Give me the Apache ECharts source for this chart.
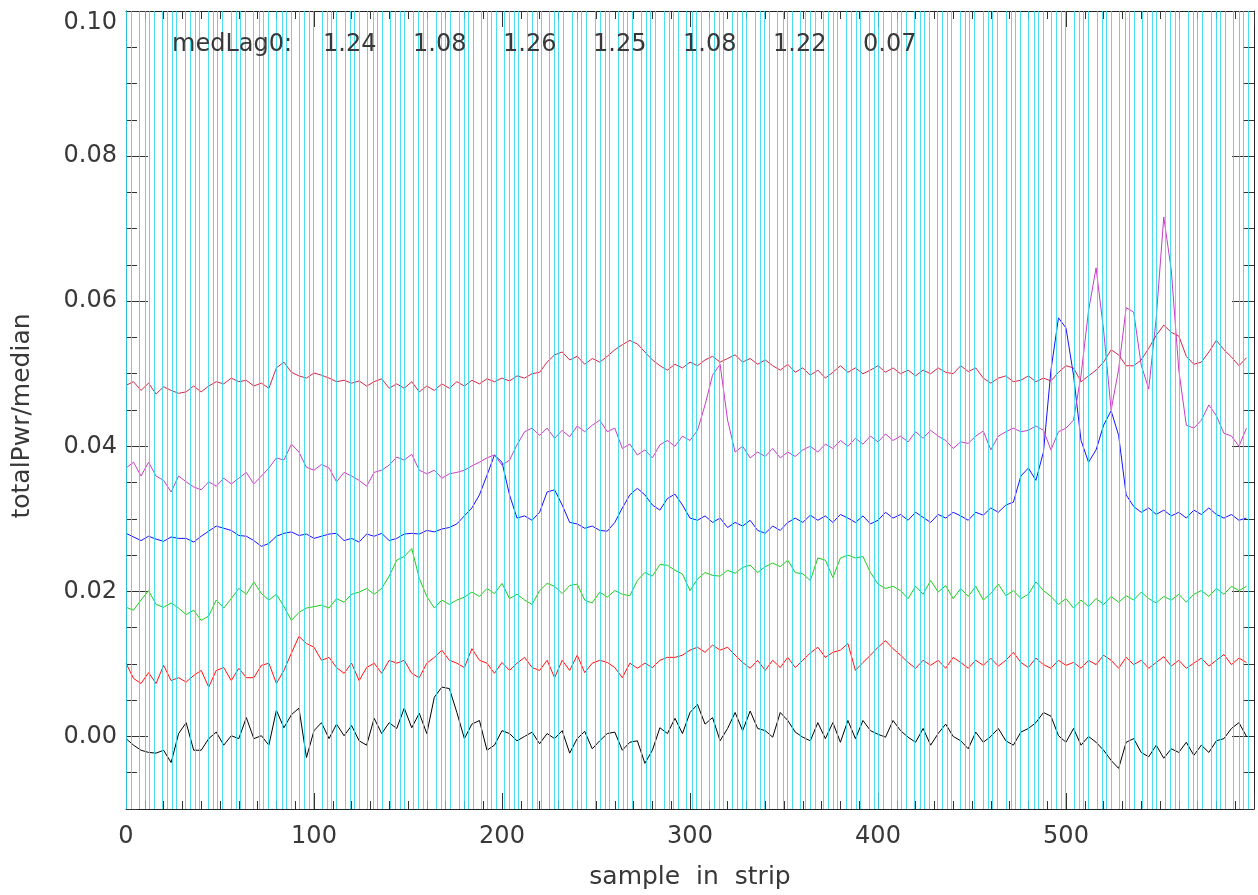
<!DOCTYPE html>
<html lang="en">
<head>
<meta charset="UTF-8" />
<title>totalPwr / median</title>
<script src="https://cdn.jsdelivr.net/npm/echarts@6/dist/echarts.min.js"></script>
<style>html,body{margin:0;padding:0;background:#fff}</style>
</head>
<body>
<div id="chart" style="width:1258px;height:895px"></div>
<script>
// one value every 4 samples
var sampleStep = 4;

var blackVals = [
  -0.0003, -0.0012, -0.0019, -0.0022, -0.0023, -0.0019, -0.0036, 0.0004, 0.0019, -0.0019,
  -0.0019, -0.0003, 0.0006, -0.0012, 0.0001, -0.0003, 0.0026, -0.0003, 0.0001, -0.0012,
  0.0036, 0.0012, 0.003, 0.0039, -0.0029, 0.0008, 0.0019, -0.0003, 0.0017, 0.0001,
  0.0015, -0.0006, -0.0012, 0.0025, 0.0004, 0.0019, 0.0011, 0.0039, 0.0012, 0.0032,
  0.0004, 0.0054, 0.0068, 0.0066, 0.0033, -0.0003, 0.0017, 0.0022, -0.0019, -0.0012,
  0.0008, 0.0004, -0.0006, 0, 0.0006, -0.001, 0.0004, -0.0003, 0.0008, -0.0023,
  -0.0003, 0.0007, -0.0017, -0.0006, 0.0004, 0.0006, -0.0019, -0.0008, -0.0006, -0.0037,
  -0.0019, 0.0012, 0.0004, 0.0025, 0.0004, 0.0033, 0.0044, 0.0017, 0.0026, -0.0006,
  0.0011, 0.0033, 0.0008, 0.0035, 0.0011, 0.0008, -0.0001, 0.0033, 0.0022, 0.0006,
  -0.0001, -0.0006, 0.0019, -0.0003, 0.0019, -0.0008, 0.0022, -0.0003, 0.0022, 0.0008,
  0.0003, -0.0001, 0.0022, 0.0008, -0.0001, -0.0008, 0.0011, -0.0012, 0.0004, 0.0017,
  0, -0.0006, -0.0017, 0.0006, -0.0008, 0, 0.0011, -0.0006, -0.0012, 0.0006,
  0.0011, 0.0019, 0.0033, 0.0028, 0.0001, -0.0008, 0.0011, -0.0012, 0, -0.0008,
  -0.0019, -0.0033, -0.0044, -0.0008, -0.0003, -0.0022, -0.0028, -0.0012, -0.003, -0.0017,
  -0.0022, -0.0008, -0.0026, -0.0012, -0.0022, -0.0006, -0.0003, 0.0011, 0.0019, 0
];

var redVals = [
  0.0101, 0.008, 0.0073, 0.0088, 0.0073, 0.0098, 0.0077, 0.0081, 0.0075, 0.0084,
  0.0091, 0.0068, 0.0091, 0.0095, 0.0077, 0.0094, 0.0081, 0.0081, 0.0098, 0.0101,
  0.0073, 0.0091, 0.0115, 0.0138, 0.0128, 0.0123, 0.0105, 0.0109, 0.0095, 0.0087,
  0.0101, 0.0077, 0.0095, 0.0101, 0.0087, 0.0105, 0.0101, 0.0105, 0.0087, 0.0081,
  0.0101, 0.0109, 0.0119, 0.0105, 0.0101, 0.0095, 0.0121, 0.0105, 0.0101, 0.0087,
  0.0102, 0.0091, 0.0101, 0.0109, 0.0095, 0.0091, 0.0105, 0.0081, 0.0105, 0.0091,
  0.0112, 0.0088, 0.0101, 0.0105, 0.0102, 0.0095, 0.0081, 0.0101, 0.0094, 0.0101,
  0.0095, 0.0105, 0.0109, 0.0109, 0.0112, 0.0119, 0.0123, 0.0116, 0.0126, 0.0119,
  0.0123, 0.0112, 0.0102, 0.0094, 0.0105, 0.0091, 0.0105, 0.0095, 0.0109, 0.0095,
  0.0105, 0.0115, 0.0123, 0.0109, 0.0116, 0.0119, 0.0128, 0.0091, 0.0102, 0.0112,
  0.0123, 0.0132, 0.0121, 0.0112, 0.0102, 0.0094, 0.0105, 0.0098, 0.0105, 0.0094,
  0.0109, 0.0102, 0.0094, 0.0105, 0.0098, 0.0108, 0.0097, 0.0105, 0.0116, 0.0102,
  0.0095, 0.0108, 0.0099, 0.0094, 0.0105, 0.0098, 0.0102, 0.0094, 0.0105, 0.0099,
  0.0112, 0.0105, 0.0094, 0.0109, 0.0099, 0.0105, 0.0094, 0.0102, 0.011, 0.0097,
  0.0105, 0.0094, 0.0101, 0.0108, 0.0097, 0.0105, 0.0113, 0.0099, 0.0108, 0.0102
];

var greenVals = [
  0.0178, 0.0174, 0.0188, 0.0201, 0.0182, 0.0178, 0.0184, 0.0177, 0.0168, 0.0174,
  0.016, 0.0166, 0.0188, 0.0177, 0.019, 0.0204, 0.0196, 0.0213, 0.0197, 0.0188,
  0.0196, 0.0179, 0.016, 0.0171, 0.0177, 0.0179, 0.0181, 0.0177, 0.019, 0.0185,
  0.0196, 0.0199, 0.0204, 0.0196, 0.0204, 0.0221, 0.0243, 0.0248, 0.0259, 0.0218,
  0.0193, 0.0177, 0.0188, 0.0182, 0.0188, 0.0192, 0.0199, 0.0193, 0.0204, 0.0197,
  0.0211, 0.019, 0.0196, 0.0188, 0.0182, 0.0201, 0.0211, 0.0207, 0.0197, 0.0208,
  0.021, 0.0188, 0.0184, 0.0199, 0.0192, 0.0201, 0.0196, 0.0194, 0.0215, 0.0226,
  0.0221, 0.0237, 0.0236, 0.0229, 0.0224, 0.0201, 0.0217, 0.0226, 0.0222, 0.0221,
  0.0229, 0.0225, 0.0233, 0.0236, 0.0226, 0.0234, 0.0239, 0.0234, 0.0243, 0.0226,
  0.0224, 0.0215, 0.0246, 0.0243, 0.0219, 0.0246, 0.025, 0.0246, 0.0248, 0.0226,
  0.021, 0.0204, 0.0207, 0.0201, 0.019, 0.0207, 0.0196, 0.0215, 0.0199, 0.0208,
  0.019, 0.0204, 0.0193, 0.0207, 0.0188, 0.0197, 0.021, 0.0194, 0.0201, 0.019,
  0.0196, 0.0213, 0.0201, 0.0193, 0.0182, 0.019, 0.0177, 0.0188, 0.0179, 0.019,
  0.0182, 0.0193, 0.0185, 0.0194, 0.0188, 0.0199, 0.019, 0.0184, 0.0193, 0.0188,
  0.0196, 0.0185, 0.0196, 0.0201, 0.0193, 0.0204, 0.0196, 0.0207, 0.0201, 0.0207
];

var blueVals = [
  0.028, 0.0275, 0.027, 0.0276, 0.0272, 0.0269, 0.0275, 0.0273, 0.0273, 0.0268,
  0.0276, 0.0283, 0.029, 0.0287, 0.0284, 0.0277, 0.0276, 0.027, 0.0262, 0.0266,
  0.0276, 0.028, 0.0282, 0.0277, 0.0279, 0.0273, 0.0276, 0.0279, 0.028, 0.027,
  0.0273, 0.0268, 0.0279, 0.0276, 0.028, 0.027, 0.0273, 0.0279, 0.028, 0.0279,
  0.0284, 0.0282, 0.0286, 0.0288, 0.0293, 0.0304, 0.0315, 0.0333, 0.036, 0.0388,
  0.0378, 0.0333, 0.0301, 0.0304, 0.0298, 0.0309, 0.0337, 0.034, 0.0319, 0.0295,
  0.0293, 0.0287, 0.029, 0.0284, 0.0283, 0.0295, 0.0315, 0.0333, 0.0342, 0.0333,
  0.0319, 0.0312, 0.0328, 0.0334, 0.0319, 0.0301, 0.0298, 0.0304, 0.0295, 0.0301,
  0.0288, 0.0295, 0.029, 0.0298, 0.0284, 0.028, 0.029, 0.0284, 0.0295, 0.0301,
  0.0295, 0.0305, 0.0298, 0.0304, 0.0295, 0.0306, 0.0301, 0.0295, 0.0304, 0.0293,
  0.0298, 0.0309, 0.0301, 0.0306, 0.0298, 0.0309, 0.0302, 0.0295, 0.0306, 0.0301,
  0.0309, 0.0304, 0.0298, 0.0309, 0.0305, 0.0315, 0.0309, 0.0319, 0.0323, 0.0359,
  0.037, 0.0353, 0.0392, 0.0505, 0.0577, 0.0563, 0.0498, 0.0408, 0.0378, 0.0395,
  0.0429, 0.0449, 0.0415, 0.0333, 0.0317, 0.0309, 0.0315, 0.0306, 0.0312, 0.0304,
  0.0309, 0.0301, 0.0312, 0.0306, 0.0315, 0.0306, 0.0301, 0.0306, 0.0298, 0.0301
];

var magentaVals = [
  0.037, 0.0378, 0.0359, 0.0378, 0.0359, 0.0353, 0.0337, 0.0359, 0.0351, 0.0344,
  0.034, 0.0351, 0.0345, 0.0356, 0.0348, 0.0356, 0.0364, 0.0348, 0.0359, 0.037,
  0.0384, 0.0381, 0.0403, 0.0392, 0.0371, 0.0367, 0.0375, 0.037, 0.0351, 0.0364,
  0.0359, 0.0353, 0.0345, 0.0364, 0.0367, 0.0374, 0.0385, 0.0381, 0.0389, 0.0367,
  0.0362, 0.0367, 0.0356, 0.0362, 0.0364, 0.0367, 0.0373, 0.0378, 0.0384, 0.0388,
  0.0374, 0.0381, 0.0402, 0.042, 0.0425, 0.0415, 0.0425, 0.0411, 0.0422, 0.0413,
  0.0428, 0.042, 0.0429, 0.0436, 0.042, 0.0425, 0.0397, 0.0403, 0.0388, 0.0395,
  0.0384, 0.0402, 0.0408, 0.04, 0.0414, 0.0408, 0.0422, 0.0457, 0.0498, 0.0513,
  0.0436, 0.0392, 0.04, 0.0384, 0.0392, 0.0386, 0.0397, 0.0384, 0.0392, 0.0386,
  0.0395, 0.04, 0.0392, 0.0403, 0.0397, 0.0408, 0.04, 0.0411, 0.0403, 0.0414,
  0.0406, 0.0417, 0.0408, 0.0414, 0.0406, 0.042, 0.0411, 0.0422, 0.0414, 0.0408,
  0.0397, 0.0406, 0.0404, 0.0414, 0.0421, 0.0395, 0.0414, 0.042, 0.0425, 0.042,
  0.0422, 0.0428, 0.0422, 0.0395, 0.042, 0.0425, 0.0436, 0.0498, 0.0587, 0.0646,
  0.056, 0.045, 0.0506, 0.0591, 0.0585, 0.0512, 0.0479, 0.0577, 0.0716, 0.0643,
  0.0505, 0.0429, 0.0425, 0.0436, 0.0457, 0.0442, 0.0418, 0.0414, 0.04, 0.0425
];

var crimsonVals = [
  0.0484, 0.0489, 0.0477, 0.0487, 0.0472, 0.0482, 0.0477, 0.0473, 0.0475, 0.0483,
  0.0475, 0.0483, 0.0489, 0.0486, 0.0494, 0.0489, 0.0491, 0.0483, 0.0487, 0.048,
  0.0508, 0.0516, 0.0502, 0.0497, 0.0494, 0.0501, 0.0498, 0.0494, 0.0489, 0.0491,
  0.0487, 0.049, 0.0483, 0.0489, 0.0493, 0.048, 0.0486, 0.048, 0.0489, 0.0475,
  0.0483, 0.0477, 0.0486, 0.048, 0.0489, 0.0483, 0.0491, 0.0486, 0.0493, 0.0489,
  0.0494, 0.049, 0.0497, 0.0494, 0.05, 0.0502, 0.0516, 0.0526, 0.053, 0.0519,
  0.0524, 0.0513, 0.0521, 0.0516, 0.0524, 0.0533, 0.054, 0.0546, 0.0541, 0.053,
  0.0519, 0.0511, 0.0505, 0.0513, 0.0508, 0.0516, 0.0511, 0.0519, 0.0524, 0.0516,
  0.0521, 0.0526, 0.0516, 0.0521, 0.0513, 0.0519, 0.0511, 0.0505, 0.0513, 0.0502,
  0.0508, 0.0498, 0.0505, 0.0494, 0.0502, 0.0511, 0.0502, 0.0508, 0.05, 0.0505,
  0.0511, 0.0502, 0.0508, 0.05, 0.0505, 0.0497, 0.0505, 0.05, 0.0508, 0.0502,
  0.05, 0.0511, 0.0503, 0.0508, 0.0494, 0.0487, 0.0494, 0.0497, 0.0489, 0.0491,
  0.0497, 0.0489, 0.0494, 0.049, 0.0502, 0.0511, 0.0508, 0.0489, 0.0497, 0.0505,
  0.0516, 0.0533, 0.0526, 0.0511, 0.0511, 0.0519, 0.0535, 0.0553, 0.0567, 0.0557,
  0.0552, 0.0524, 0.0513, 0.0516, 0.053, 0.0546, 0.0533, 0.0523, 0.0511, 0.0522
];

// cyan marker lines: come in groups of four
var markerGroupStarts = [
  -4.7, 7.4, 19.5, 31.7, 43.8, 55.9, 68.0, 80.2, 92.3, 104.4,
  116.5, 128.7, 140.8, 152.9, 165.0, 177.2, 189.3, 201.4, 213.6, 225.1,
  237.4, 249.8, 261.9, 274.1, 286.2, 298.3, 310.4, 322.6, 334.7, 346.8,
  358.9, 371.1, 383.2, 395.3, 407.4, 419.6, 431.7, 443.8, 455.9, 468.1,
  480.2, 492.3, 504.4, 516.6, 528.7, 540.8, 552.9, 565.1, 577.2, 589.3
];
var markerOffsets = [0, 2.8, 5.1, 7.6];

var medLagLabel = 'medLag0:';
var medLagValues = ['1.24', '1.08', '1.26', '1.25', '1.08', '1.22', '0.07'];

var yMajorTicks = [0, 0.02, 0.04, 0.06, 0.08, 0.10];

var FONT = 'DejaVu Sans';
var TXT = '#383838';

// plot box in pixels (x: 0..600 over 1128 px)
var PLOT_LEFT = 126, PLOT_W = 1128, X_MAX = 600;

var chart = echarts.init(document.getElementById('chart'));

function pairs(vals) {
  return vals.map(function (v, i) { return [i * sampleStep, v]; });
}

// keep marker lines on whole pixels so they stay crisp cyan
var pxPerSample = PLOT_W / X_MAX;
var markerX = [];
markerGroupStarts.forEach(function (g) {
  markerOffsets.forEach(function (o) {
    var x = g + o;
    if (x > 0.3 && x < 599.7) {
      var px = Math.round(PLOT_LEFT + x * pxPerSample - 0.5) + 0.5;
      markerX.push((px - PLOT_LEFT) / pxPerSample);
    }
  });
});

function lineSeries(name, vals, color) {
  return {
    name: name, type: 'line', data: pairs(vals),
    xAxisIndex: 0, yAxisIndex: 0,
    symbol: 'none', showSymbol: false, z: 2,
    lineStyle: { color: color, width: 1 },
    animation: false, silent: true
  };
}

var tickCol = '#333';

function xAx(pos, labels) {
  return {
    type: 'value', position: pos, min: 0, max: X_MAX, interval: 100,
    axisLine: { show: true, onZero: false, lineStyle: { color: '#222', width: 1 } },
    axisTick: { show: true, inside: true, length: 16, lineStyle: { color: tickCol } },
    minorTick: { show: true, splitNumber: 10, length: 8, lineStyle: { color: tickCol } },
    splitLine: { show: false },
    axisLabel: labels
      ? { margin: 16, fontSize: 24, fontFamily: FONT, color: TXT, showMaxLabel: false }
      : { show: false }
  };
}

var option = {
  backgroundColor: '#fff',
  animation: false,
  grid: { left: PLOT_LEFT, width: PLOT_W, top: 11, bottom: 86 },
  xAxis: [xAx('bottom', true), xAx('top', false)],
  yAxis: [
    {
      type: 'value', position: 'left', min: -0.01, max: 0.1, interval: 0.005,
      axisLine: { show: true, onZero: false, lineStyle: { color: '#222', width: 1 } },
      axisTick: { show: true, inside: true, length: 11, lineStyle: { color: tickCol } },
      splitLine: { show: false },
      axisLabel: {
        margin: 9, fontSize: 24, fontFamily: FONT, color: TXT,
        verticalAlignMaxLabel: 'top',
        formatter: function (v) {
          var k = Math.round(v * 1000);
          return (k >= 0 && k % 20 === 0) ? (k / 1000).toFixed(2) : '';
        }
      }
    },
    {
      type: 'value', position: 'left', min: -0.01, max: 0.1,
      axisLine: { show: false, onZero: false },
      axisTick: { show: true, inside: true, length: 22, customValues: yMajorTicks, lineStyle: { color: tickCol } },
      splitLine: { show: false },
      axisLabel: { show: false }
    },
    {
      type: 'value', position: 'right', min: -0.01, max: 0.1, interval: 0.005,
      axisLine: { show: true, onZero: false, lineStyle: { color: '#222', width: 1 } },
      axisTick: { show: true, inside: true, length: 11, lineStyle: { color: tickCol } },
      splitLine: { show: false },
      axisLabel: { show: false }
    },
    {
      type: 'value', position: 'right', min: -0.01, max: 0.1,
      axisLine: { show: false, onZero: false },
      axisTick: { show: true, inside: true, length: 22, customValues: yMajorTicks, lineStyle: { color: tickCol } },
      splitLine: { show: false },
      axisLabel: { show: false }
    }
  ],
  series: [
    lineSeries('black', blackVals, '#000000'),
    lineSeries('red', redVals, '#ff1010'),
    lineSeries('green', greenVals, '#1ccc1c'),
    lineSeries('blue', blueVals, '#1414ff'),
    lineSeries('magenta', magentaVals, '#c83cc8'),
    lineSeries('crimson', crimsonVals, '#d02848'),
    {
      name: 'markers', type: 'line', data: [], xAxisIndex: 0, yAxisIndex: 0,
      z: 3, silent: true, animation: false,
      markLine: {
        silent: true, animation: false, symbol: ['none', 'none'],
        label: { show: false },
        lineStyle: { color: '#2cd8ec', width: 1, type: 'solid', opacity: 0.85 },
        emphasis: { disabled: true },
        data: markerX.map(function (x) { return { xAxis: x }; })
      }
    }
  ],
  graphic: [
    { type: 'text', left: 172, top: 33, z: 10,
      style: { text: medLagLabel, font: '24px "DejaVu Sans"', fill: TXT } }
  ].concat(medLagValues.map(function (t, i) {
    return { type: 'text', left: 323 + i * 90, top: 33, z: 10,
      style: { text: t, font: '24px "DejaVu Sans"', fill: TXT } };
  })).concat([
    { type: 'text', x: 690, y: 877, z: 10,
      style: { text: 'sample  in  strip', font: '25px "DejaVu Sans"', fill: TXT, align: 'center', verticalAlign: 'middle' } },
    { type: 'text', x: 22, y: 416, rotation: Math.PI / 2, z: 10,
      style: { text: 'totalPwr/median', font: '25px "DejaVu Sans"', fill: TXT, align: 'center', verticalAlign: 'middle' } }
  ])
};

chart.setOption(option);
</script>
</body>
</html>
